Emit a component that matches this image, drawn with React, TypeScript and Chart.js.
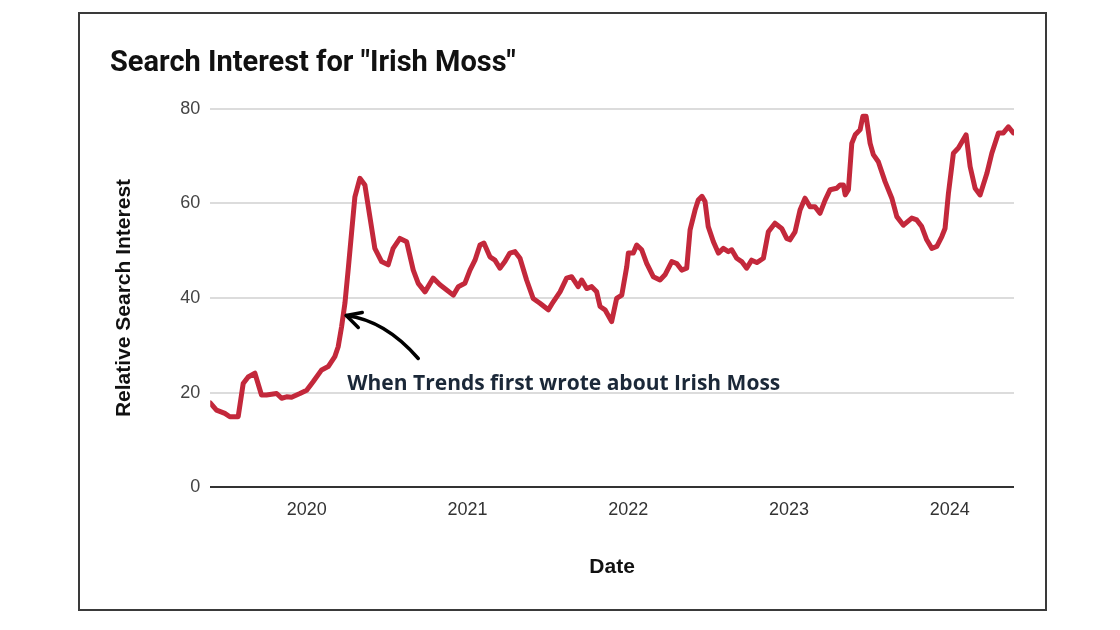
import React, { useEffect, useRef } from "react";
import { Chart, registerables } from "chart.js";

Chart.register(...registerables);

const chartTitle = 'Search Interest for "Irish Moss"';
const yAxisTitle = "Relative Search Interest";
const xAxisTitle = "Date";
const annotationText = "When Trends first wrote about Irish Moss";

const yearTicks = [2020, 2021, 2022, 2023, 2024];
const yTicks = [0, 20, 40, 60, 80];

// decimal year of each traced point
const years = [
  2019.4, 2019.439, 2019.491, 2019.522, 2019.574, 2019.605, 2019.636, 2019.678, 2019.719, 2019.75,
  2019.813, 2019.844, 2019.875, 2019.906, 2019.958, 2020.0, 2020.04, 2020.093, 2020.134, 2020.175,
  2020.196, 2020.217, 2020.238, 2020.258, 2020.279, 2020.3, 2020.331, 2020.362, 2020.393, 2020.424,
  2020.466, 2020.507, 2020.538, 2020.58, 2020.622, 2020.663, 2020.694, 2020.736, 2020.787, 2020.829,
  2020.871, 2020.912, 2020.943, 2020.984, 2021.016, 2021.047, 2021.078, 2021.103, 2021.14, 2021.171,
  2021.202, 2021.233, 2021.264, 2021.296, 2021.327, 2021.368, 2021.409, 2021.451, 2021.503, 2021.534,
  2021.576, 2021.617, 2021.648, 2021.689, 2021.711, 2021.742, 2021.773, 2021.804, 2021.825, 2021.856,
  2021.897, 2021.928, 2021.96, 2021.991, 2022.001, 2022.032, 2022.053, 2022.084, 2022.115, 2022.156,
  2022.198, 2022.229, 2022.271, 2022.302, 2022.333, 2022.364, 2022.385, 2022.416, 2022.436, 2022.459,
  2022.478, 2022.498, 2022.53, 2022.561, 2022.592, 2022.623, 2022.644, 2022.675, 2022.706, 2022.737,
  2022.768, 2022.8, 2022.841, 2022.872, 2022.913, 2022.955, 2022.986, 2023.006, 2023.038, 2023.069,
  2023.1, 2023.131, 2023.162, 2023.193, 2023.225, 2023.256, 2023.297, 2023.318, 2023.339, 2023.35,
  2023.37, 2023.391, 2023.412, 2023.443, 2023.46, 2023.48, 2023.505, 2023.525, 2023.556, 2023.598,
  2023.64, 2023.671, 2023.712, 2023.764, 2023.795, 2023.826, 2023.857, 2023.889, 2023.92, 2023.951,
  2023.971, 2023.992, 2024.023, 2024.054, 2024.102, 2024.127, 2024.158, 2024.189, 2024.231, 2024.262,
  2024.303, 2024.334, 2024.365, 2024.396,
];

const interest = [
  17.8, 16.3, 15.6, 14.9, 14.9, 21.9, 23.3, 24.1, 19.5, 19.5,
  19.8, 18.8, 19.1, 19.0, 19.8, 20.5, 22.3, 24.8, 25.5, 27.6,
  29.7, 33.9, 38.9, 45.9, 53.7, 61.4, 65.3, 63.9, 57.2, 50.5,
  47.7, 47.0, 50.5, 52.6, 51.9, 45.9, 43.1, 41.3, 44.2, 42.8,
  41.7, 40.6, 42.4, 43.1, 45.9, 48.0, 51.2, 51.6, 48.7, 48.0,
  46.3, 47.7, 49.5, 49.8, 48.4, 43.8, 39.9, 38.9, 37.5, 39.2,
  41.3, 44.2, 44.5, 42.4, 43.8, 42.0, 42.4, 41.3, 38.2, 37.5,
  35.0, 39.9, 40.6, 46.6, 49.5, 49.5, 51.2, 50.2, 47.3, 44.5,
  43.8, 44.9, 47.7, 47.3, 45.9, 46.3, 54.4, 58.6, 60.7, 61.5,
  60.4, 55.1, 51.9, 49.5, 50.5, 49.8, 50.2, 48.4, 47.7, 46.3,
  48.0, 47.5, 48.4, 54.0, 55.8, 54.7, 52.6, 52.3, 54.0, 58.6,
  61.1, 59.3, 59.3, 57.9, 60.7, 62.9, 63.2, 63.9, 63.9, 61.8,
  62.9, 72.7, 74.5, 75.6, 78.4, 78.4, 72.7, 70.3, 68.8, 64.6,
  61.1, 57.2, 55.4, 56.9, 56.5, 55.1, 52.3, 50.5, 50.9, 53.0,
  54.7, 62.1, 70.6, 71.7, 74.5, 67.8, 63.2, 61.8, 66.3, 70.6,
  74.9, 74.9, 76.2, 74.9,
];

// point of the line the annotation arrow points at
const annotationYear = 2020.24;
const annotationValue = 36.3;

const annotationPlugin = {
  id: "arrowAnnotation",
  afterDatasetsDraw(chart: any) {
    const { ctx, scales } = chart;
    const tx = scales.x.getPixelForValue(annotationYear);
    const ty = scales.y.getPixelForValue(annotationValue);
    ctx.save();
    ctx.strokeStyle = "#000000";
    ctx.lineWidth = 3.5;
    ctx.lineCap = "round";
    ctx.lineJoin = "round";
    ctx.beginPath();
    ctx.moveTo(tx + 73, ty + 43);
    ctx.quadraticCurveTo(tx + 40, ty + 5, tx + 1, ty);
    ctx.stroke();
    ctx.beginPath();
    ctx.moveTo(tx + 17, ty - 3);
    ctx.lineTo(tx + 1, ty);
    ctx.lineTo(tx + 13, ty + 12);
    ctx.stroke();
    ctx.fillStyle = "#1b2838";
    ctx.font = "bold 21px 'Open Sans'";
    ctx.textAlign = "left";
    ctx.textBaseline = "alphabetic";
    ctx.fillText(annotationText, tx + 2, ty + 74);
    ctx.restore();
  },
};

export default function App() {
  const canvasRef = useRef<HTMLCanvasElement>(null);

  useEffect(() => {
    const canvas = canvasRef.current;
    if (!canvas) return;
    const chart = new Chart(canvas, {
      type: "line",
      data: {
        datasets: [
          {
            label: "Irish Moss",
            data: years.map((x, i) => ({ x, y: interest[i] })),
            borderColor: "#c3283b",
            borderWidth: 5,
            pointRadius: 0,
            tension: 0,
            borderJoinStyle: "round",
            borderCapStyle: "round",
            fill: false,
          },
        ],
      },
      options: {
        animation: false,
        responsive: false,
        maintainAspectRatio: false,
        layout: { padding: { left: 110, right: 106, top: 46, bottom: 50 } },
        plugins: {
          legend: { display: false },
          tooltip: { enabled: false },
          title: {
            display: true,
            text: chartTitle,
            align: "start",
            color: "#111111",
            font: { family: "Roboto", size: 29, weight: "bold" },
            padding: { top: 0, bottom: 28 },
          },
        },
        scales: {
          x: {
            type: "linear",
            min: 2019.4,
            max: 2024.4,
            afterBuildTicks: (axis: any) => {
              axis.ticks = yearTicks.map((v) => ({ value: v }));
            },
            grid: { display: false, drawTicks: false },
            border: { display: false },
            ticks: {
              padding: 12,
              color: "#333333",
              font: { family: "Liberation Sans", size: 18 },
              callback: (v: any) => String(v),
              maxRotation: 0,
            },
            title: {
              display: true,
              text: xAxisTitle,
              color: "#111111",
              font: { family: "Liberation Sans", size: 21, weight: "bold" },
              padding: { top: 22, bottom: 0 },
            },
          },
          y: {
            min: 0,
            max: 80,
            afterBuildTicks: (axis: any) => {
              axis.ticks = yTicks.map((v) => ({ value: v }));
            },
            grid: {
              drawTicks: false,
              color: (c: any) => (c.tick && c.tick.value === 0 ? "#333333" : "#dcdcdc"),
              lineWidth: 2,
            },
            border: { display: false },
            ticks: {
              padding: 10,
              color: "#444444",
              font: { family: "Liberation Sans", size: 18 },
            },
            title: {
              display: true,
              text: yAxisTitle,
              color: "#111111",
              font: { family: "Liberation Sans", size: 21, weight: "bold" },
              padding: { top: 2, bottom: 33 },
            },
          },
        },
      },
      plugins: [annotationPlugin],
    });
    return () => chart.destroy();
  }, []);

  return (
    <div style={{ position: "fixed", left: 0, top: 0, width: 1120, height: 630, background: "#ffffff" }}>
      <div
        style={{
          position: "absolute",
          left: 78,
          top: 12,
          width: 969,
          height: 599,
          boxSizing: "border-box",
          border: "2px solid #3a3a3a",
        }}
      />
      <canvas
        ref={canvasRef}
        width={1120}
        height={630}
        style={{ position: "absolute", left: 0, top: 0, width: 1120, height: 630 }}
      />
    </div>
  );
}
